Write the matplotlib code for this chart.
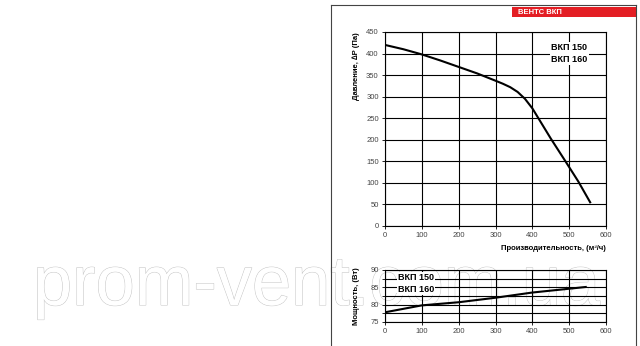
import numpy as np
import matplotlib
matplotlib.use("Agg")
import matplotlib.pyplot as plt
import matplotlib.patheffects as pe
from matplotlib.lines import Line2D
from matplotlib.patches import Rectangle

plt.rcParams['font.family'] = ['Liberation Sans', 'DejaVu Sans']

# pressure curve, Па vs м3/ч
flow_p = [0, 50, 100, 150, 200, 250, 300, 320, 340, 360, 380, 400, 420, 450, 490, 525, 557]
pressure = [420, 410, 398, 384, 369, 354, 337, 330, 322, 311, 295, 273, 245, 203, 150, 103, 55]

# power curve, Вт vs м3/ч
flow_w = [0, 100, 200, 300, 400, 500, 545]
power = [77.8, 79.8, 80.7, 82.0, 83.5, 84.6, 85.1]

models = "ВКП 150\nВКП 160"
title = "ВЕНТС ВКП"
xlab = "Производительность, (м³/ч)"
ylab_top = "Давление, ∆P (Па)"
ylab_bot = "Мощность, (Вт)"
mark = "prom-vent.com.ua"

fig = plt.figure(figsize=(6.4, 3.46), dpi=100)

W, H = 640.0, 346.0
def rect(x0, y0, x1, y1):
    return [x0 / W, 1 - y1 / H, (x1 - x0) / W, (y1 - y0) / H]

# watermark behind everything: outline lettering, sized to span ~567 px
wm = fig.text(33 / W, 1 - 305 / H, mark, fontsize=56, color="white",
              family=["Liberation Sans Narrow", "Liberation Sans"],
              va="baseline", zorder=-5,
              path_effects=[pe.withStroke(linewidth=0.7, foreground="#c4c4c4")])
fig.canvas.draw()
bb = wm.get_window_extent()
wm.set_fontsize(56 * 567.0 / bb.width)

# frame around the panel
fig.add_artist(Line2D([330.5 / W, 330.5 / W], [0, 1 - 5 / H], color="#444444", lw=0.8))
fig.add_artist(Line2D([330.5 / W, 635.5 / W], [1 - 5 / H, 1 - 5 / H], color="#444444", lw=0.8))
fig.add_artist(Line2D([635.5 / W, 635.5 / W], [0, 1 - 5 / H], color="#444444", lw=0.8))

# red banner
fig.add_artist(Rectangle((512 / W, 1 - 17 / H), 123.5 / W, 10 / H, color="#e31e24", lw=0))
fig.text(518 / W, 1 - 12 / H, title, color="white", fontsize=5.5, fontweight="bold", va="center")

ax1 = fig.add_axes(rect(385, 32, 606, 226))
ax2 = fig.add_axes(rect(385, 270, 606, 322))

for ax in (ax1, ax2):
    ax.patch.set_alpha(0)
    ax.set_xlim(0, 600)
    ax.set_xticks(np.arange(0, 601, 100))
    ax.grid(True, color="black", lw=0.8)
    ax.tick_params(labelsize=5.5, labelcolor="#444444", length=2.5, width=0.6, pad=2)
    for s in ax.spines.values():
        s.set_linewidth(0.8)

ax1.set_ylim(0, 450)
ax1.set_yticks(np.arange(0, 451, 50))
ax1.plot(flow_p, pressure, color="black", lw=1.5)
ax1.text(500, 400, models, fontsize=6.5, fontweight="bold", ha="center", va="center",
         linespacing=1.4, bbox=dict(facecolor="white", edgecolor="none", pad=1))

ax2.set_ylim(75, 90)
yt = np.arange(75, 90.1, 2.5)
ax2.set_yticks(yt)
ax2.set_yticklabels([("%d" % v) if v % 5 == 0 else "" for v in yt])
ax2.plot(flow_w, power, color="black", lw=1.5)
ax2.text(35, 86.1, models, fontsize=6.5, fontweight="bold", ha="left", va="center",
         linespacing=1.4, bbox=dict(facecolor="white", edgecolor="none", pad=1))

fig.text(606 / W, 1 - 249 / H, xlab, fontsize=5.5, fontweight="bold", ha="right", va="center")
fig.text(356 / W, 1 - 32 / H, ylab_top, fontsize=5.5, fontweight="bold", rotation=90,
         ha="center", va="top")
fig.text(356 / W, 1 - 296 / H, ylab_bot, fontsize=5.5, fontweight="bold", rotation=90,
         ha="center", va="center")

fig.savefig("out.png", dpi=100)
